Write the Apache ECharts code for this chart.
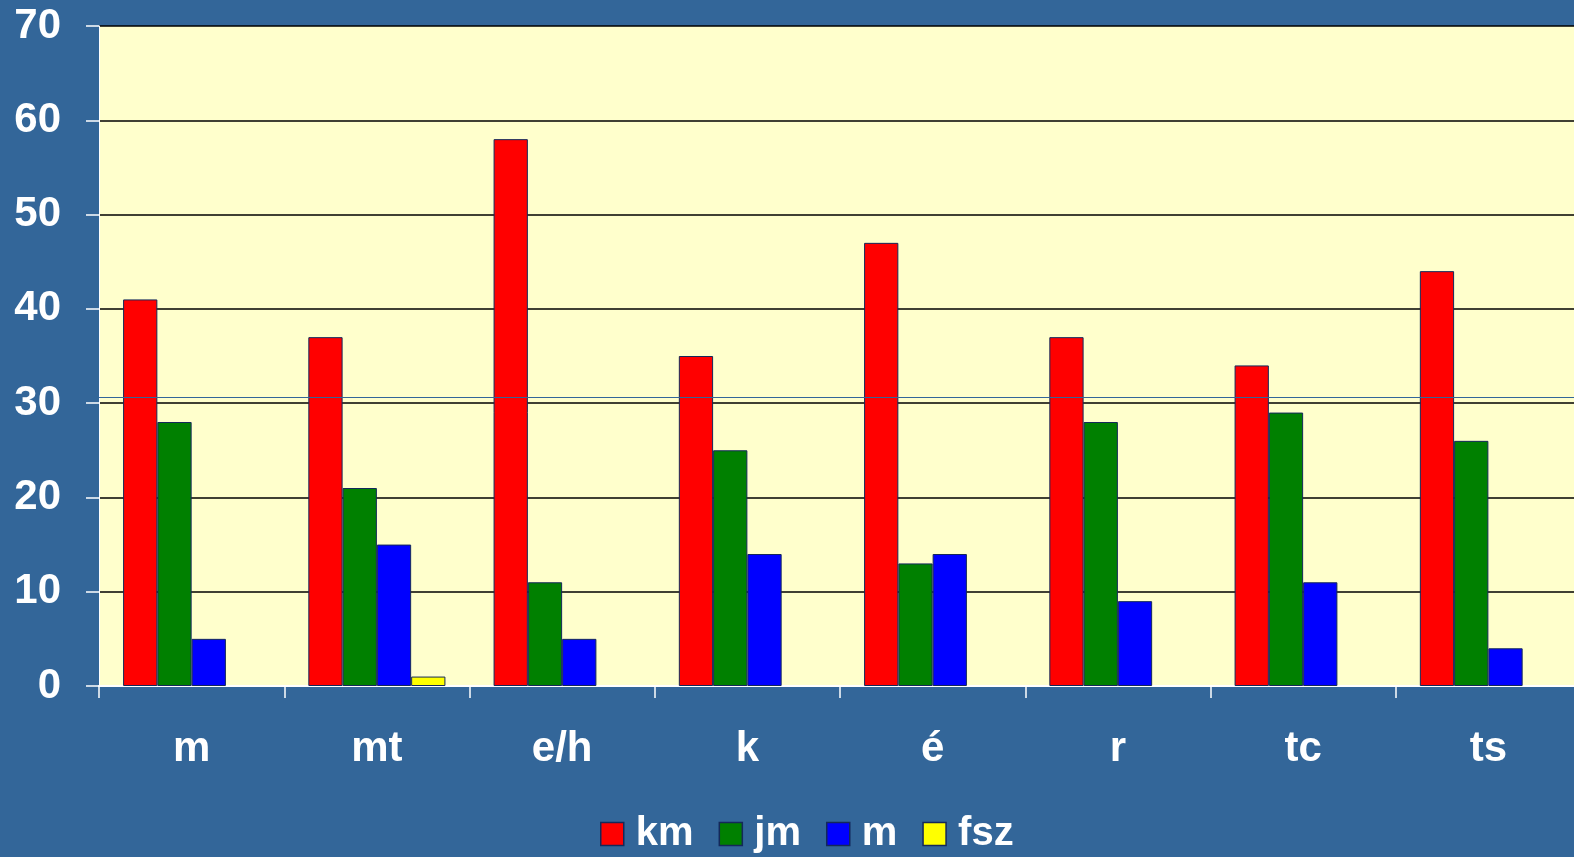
<!DOCTYPE html>
<html>
<head>
<meta charset="utf-8">
<style>
  html, body { margin: 0; padding: 0; background: #336699; overflow: hidden; }
  #chart { width: 1574px; height: 857px; }
</style>
<script src="https://cdn.jsdelivr.net/npm/echarts@6/dist/echarts.min.js"></script>
</head>
<body>
<div id="chart"></div>
<script>
// data
const categories = ['m', 'mt', 'e/h', 'k', 'é', 'r', 'tc', 'ts']
const km = [41, 37, 58, 35, 47, 37, 34, 44]
const jm = [28, 21, 11, 25, 13, 28, 29, 26]
const mm = [5, 15, 5, 14, 14, 9, 11, 4]
const fsz = [0, 1, 0, 0, 0, 0, 0, 0]
const yTicks = [0, 10, 20, 30, 40, 50, 60, 70]

const font = '"Liberation Sans", Arial, sans-serif'
const edge = '#14285a'

function bar(name, data, color) {
  return {
    name: name,
    type: 'bar',
    // zero values draw nothing in the original (no flat outline)
    data: data.map(v => (v === 0 ? null : v)),
    barGap: '0%',
    barCategoryGap: '26%',
    itemStyle: { color: color, borderColor: edge, borderWidth: 1 },
  }
}

const chart = echarts.init(document.getElementById('chart'))
const series = [
  bar('km', km, '#ff0000'),
  bar('jm', jm, '#008000'),
  bar('m', mm, '#0000ff'),
  bar('fsz', fsz, '#ffff00'),
]
// thin stray line across the plot just above 30
series[0].markLine = {
  silent: true,
  symbol: 'none',
  label: { show: false },
  lineStyle: { color: '#336699', width: 1, type: 'solid' },
  data: [{ yAxis: 30.6 }],
}

chart.setOption({
  backgroundColor: '#336699',
  animation: false,
  grid: {
    left: 99,
    width: 1482,
    top: 26,
    bottom: 171,
    outerBoundsMode: 'none',
    show: true,
    backgroundColor: '#ffffcc',
    borderWidth: 0,
  },
  legend: {
    bottom: -2,
    left: 595,
    itemWidth: 23,
    itemHeight: 23,
    itemGap: 25,
    icon: 'rect',
    data: ['km', 'jm', 'm', 'fsz'],
    itemStyle: { borderColor: edge, borderWidth: 1.5 },
    textStyle: {
      color: '#ffffff',
      fontFamily: font,
      fontWeight: 'bold',
      fontSize: 40,
      padding: [0, 0, 0, 7],
    },
  },
  xAxis: {
    type: 'category',
    data: categories,
    axisLine: { lineStyle: { color: '#ffffff', width: 2 } },
    axisTick: { show: true, interval: 0, length: 12, lineStyle: { color: '#ffffff', width: 1.5 } },
    axisLabel: {
      color: '#ffffff',
      fontFamily: font,
      fontWeight: 'bold',
      fontSize: 42,
      margin: 42,
    },
  },
  yAxis: {
    type: 'value',
    min: yTicks[0],
    max: yTicks[yTicks.length - 1],
    interval: 10,
    axisLine: { show: true, lineStyle: { color: '#ffffff', width: 1 } },
    axisTick: { show: true, length: 13, lineStyle: { color: '#ffffff', width: 1.5 } },
    axisLabel: {
      color: '#ffffff',
      fontFamily: font,
      fontWeight: 'bold',
      fontSize: 42,
      margin: 38,
    },
    splitLine: { show: true, lineStyle: { color: '#000000', width: 1.5 } },
  },
  series: series,
})
</script>
</body>
</html>
